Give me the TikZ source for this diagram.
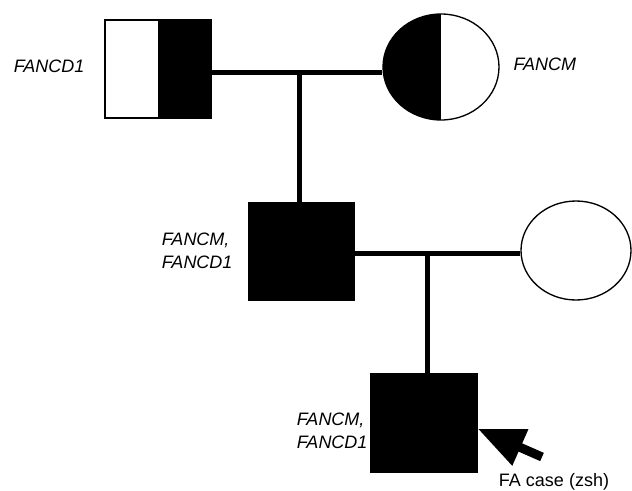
\documentclass[tikz,border=0pt]{standalone}
\usepackage{fontspec}
\setmainfont{Liberation Sans}
\usetikzlibrary{shapes.geometric,arrows.meta}

\tikzset{every picture/.style={line width=0.75pt}}
\tikzset{
  male/.style={draw, line width=1pt, rectangle, inner sep=0pt, minimum width=79.5pt, minimum height=73.5pt},
  female/.style={draw, line width=1pt, ellipse, inner sep=0pt},
  affected/.style={fill=black},
  halfright/.style={path picture={\fill[black] (path picture bounding box.north) rectangle (path picture bounding box.south east);}},
  halfleft/.style={path picture={\fill[black] (path picture bounding box.north west) rectangle (path picture bounding box.south);}},
  rel/.style={line width=3.75pt},
  gene/.style={inner sep=0pt, align=left, font=\fontsize{13.5}{17.25}\selectfont\itshape},
  pointer/.style={line width=6.75pt, -{Triangle[length=35pt,width=28pt]}}
}

\begin{document}
\begin{tikzpicture}[x=0.75pt,y=0.75pt,yscale=-1,xscale=1]
		\useasboundingbox (0,0) rectangle (632,490);
		
		%Parents
		\node[male, halfright] (f1) at (158,69) {};
		\node[female, halfleft, minimum width=87pt, minimum height=79.5pt] (m1) at (441,67) {};
		%Son and his partner
		\node[male, affected] (s1) at (301.5,251.5) {};
		\node[female, minimum width=82.5pt, minimum height=74.25pt] (w1) at (576,250.5) {};
		%Proband
		\node[male, affected] (p1) at (424,423) {};
		
		\coordinate (j1) at (299,72);
		\coordinate (j2) at (427,253);
		\draw[rel] (f1.east |- j1) -- (m1.west |- j1);
		\draw[rel] (j1) -- (j1 |- s1.north);
		\draw[rel] (s1.east |- j2) -- (w1.west |- j2);
		\draw[rel] (j2) -- (j2 |- p1.north);
		
		\coordinate (tail) at (542,457);
		\draw[pointer] (tail) -- (p1.-6);
		
		\node[gene, anchor=east] (g1) at (85,66) {FANCD1};
		\node[gene, anchor=west] (g2) at (513,64) {FANCM};
		\node[gene, anchor=east] (g3) at (233,251) {FANCM,\\FANCD1};
		\node[gene, anchor=east] (g4) at (368,431) {FANCM,\\FANCD1};
		\node[font=\fontsize{13.5}{16}\selectfont, inner sep=0pt] (lbl) at (554,482) {FA case (zsh)};
		
\end{tikzpicture}
\end{document}
